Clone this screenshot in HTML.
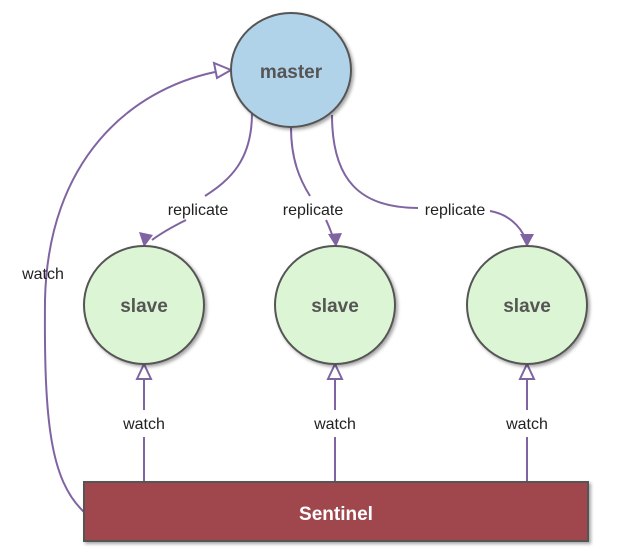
<!DOCTYPE html>
<html><head><style>
html,body{margin:0;padding:0;background:#fff;}
svg{display:block;}
text{font-family:"Liberation Sans","DejaVu Sans",sans-serif;}
</style></head><body>
<svg width="626" height="559" viewBox="0 0 626 559">
<defs>
<filter id="sh" x="-20%" y="-20%" width="150%" height="150%"><feDropShadow dx="2" dy="2" stdDeviation="1.5" flood-color="#000" flood-opacity="0.35"/></filter>
</defs>
<g fill="none" stroke="#8064a2" stroke-width="2">
<!-- left watch to master -->
<path d="M84,512 C50,480 44,420 45,300 C48,160 130,90 215,72"/>
<!-- replicate 1 -->
<path d="M252,113 C252,160 230,180 205,196"/>
<path d="M186,220 C170,228 160,234 152,240"/>
<!-- replicate 2 -->
<path d="M291,127 C291,160 300,180 310,196"/>
<path d="M326,220 C329,226 331,232 333,237"/>
<!-- replicate 3 -->
<path d="M332,115 C332,180 360,208 418,208"/>
<path d="M490,211 C508,214 520,226 525,238"/>
<!-- watch verticals -->
<path d="M144,482 V437 M144,410 V380"/>
<path d="M335,482 V437 M335,410 V380"/>
<path d="M527,482 V437 M527,410 V380"/>
</g>
<!-- hollow arrowheads -->
<g fill="#fff" stroke="#8064a2" stroke-width="2">
<polygon points="231,70 214,63 217,78"/>
<polygon points="144,364 137,379 151,379"/>
<polygon points="335,364 328,379 342,379"/>
<polygon points="527,364 520,379 534,379"/>
</g>
<!-- filled arrowheads -->
<g fill="#8064a2">
<polygon points="144,247 139,232 153,235"/>
<polygon points="336,247 328,234 342,233"/>
<polygon points="527,247 520,234 534,234"/>
</g>
<!-- nodes -->
<ellipse cx="291" cy="70" rx="60" ry="57" fill="#b1d3ea" stroke="#555" stroke-width="2" filter="url(#sh)"/>
<text x="291" y="78" text-anchor="middle" font-size="19" font-weight="bold" fill="#555">master</text>
<g fill="#dcf5d4" stroke="#555" stroke-width="2" filter="url(#sh)">
<ellipse cx="144" cy="305" rx="60" ry="59"/>
<ellipse cx="335" cy="305" rx="60" ry="59"/>
<ellipse cx="527" cy="305" rx="60" ry="59"/>
</g>
<g font-size="19" font-weight="bold" fill="#555" text-anchor="middle">
<text x="144" y="312">slave</text>
<text x="335" y="312">slave</text>
<text x="527" y="312">slave</text>
</g>
<rect x="84" y="482" width="504" height="59" fill="#a0474e" stroke="#555" stroke-width="2" filter="url(#sh)"/>
<text x="336" y="520" text-anchor="middle" font-size="19" font-weight="bold" fill="#fff">Sentinel</text>
<g font-size="16" fill="#222" text-anchor="middle">
<text x="198" y="215">replicate</text>
<text x="313" y="215">replicate</text>
<text x="455" y="215">replicate</text>
<text x="43" y="279">watch</text>
<text x="144" y="429">watch</text>
<text x="335" y="429">watch</text>
<text x="527" y="429">watch</text>
</g>
</svg>
</body></html>
